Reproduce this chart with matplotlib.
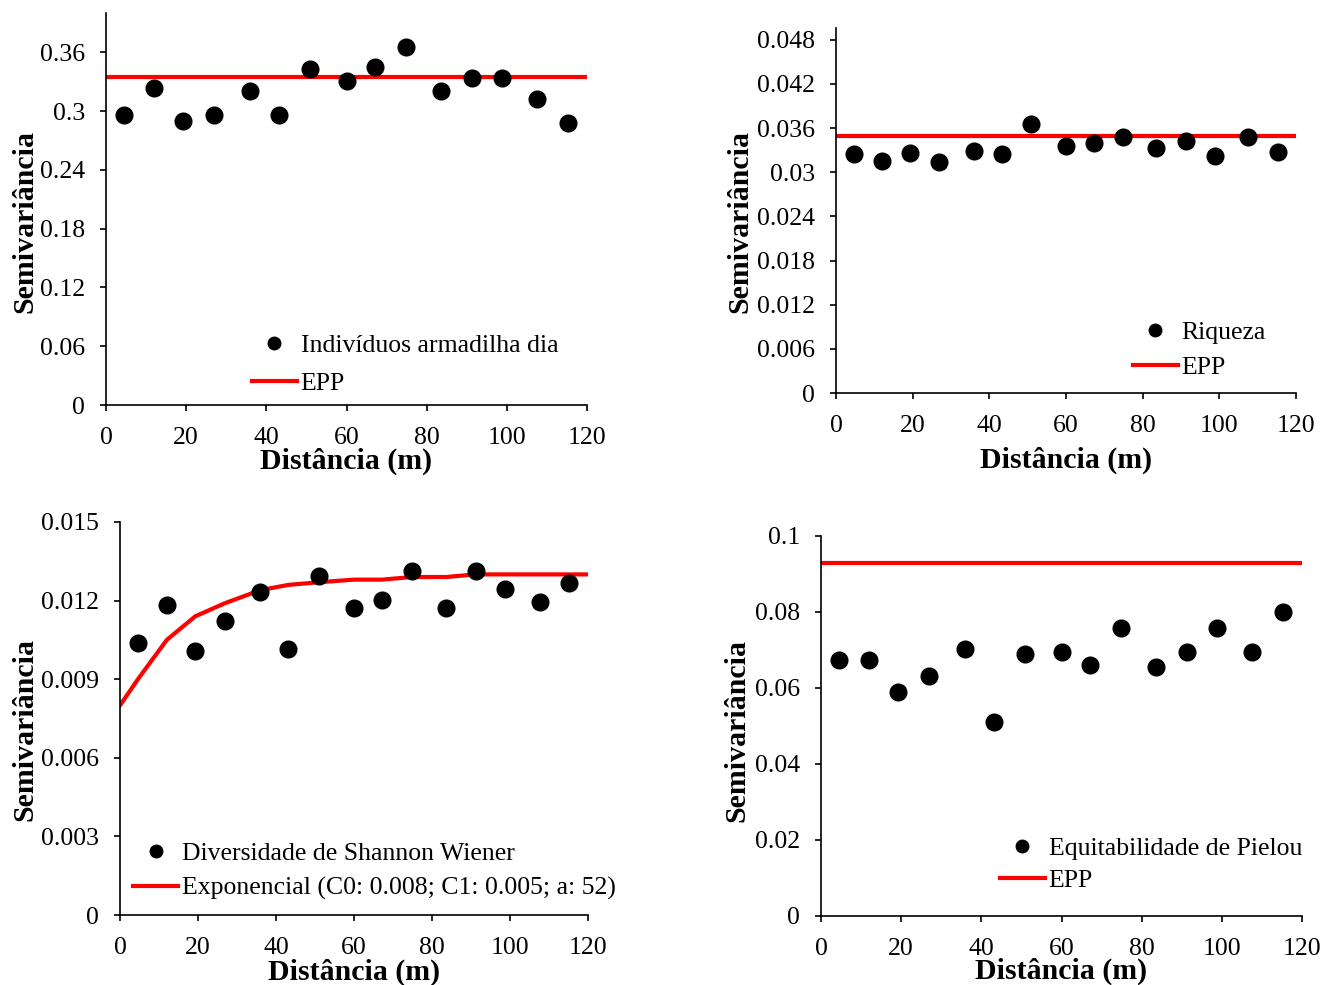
import matplotlib
import numpy as np

matplotlib.use('Agg')
import matplotlib.pyplot as plt  # noqa: E402
from matplotlib.lines import Line2D  # noqa: E402
from matplotlib.ticker import FuncFormatter, MultipleLocator  # noqa: E402

plt.rcParams['font.family'] = ['Liberation Serif', 'DejaVu Serif']

# lag distances (m), shared by all four semivariograms
LAGS = [4.6, 12.0, 19.3, 26.9, 36.0, 43.2, 50.9, 60.0, 67.2, 74.8,
        83.6, 91.2, 98.8, 107.6, 115.2]

INDIVIDUOS = [0.2958, 0.3236, 0.2897, 0.2958, 0.3206, 0.2958, 0.3430, 0.3304,
              0.3450, 0.3648, 0.3206, 0.3338, 0.3338, 0.3124, 0.2879]
INDIVIDUOS_EPP = 0.3352

RIQUEZA = [0.03247, 0.03157, 0.03265, 0.03135, 0.03288, 0.03247, 0.03654,
           0.03356, 0.03397, 0.03482, 0.03333, 0.03420, 0.03224, 0.03482,
           0.03271]
RIQUEZA_EPP = 0.03492

SHANNON = [0.01039, 0.01183, 0.01008, 0.01123, 0.01234, 0.01014, 0.01294,
           0.01173, 0.01202, 0.01313, 0.01173, 0.01313, 0.01245, 0.01196,
           0.01266]
# exponential model line, read at 0, each lag and 120 m
MODEL_X = [0.0] + LAGS + [120.0]
MODEL_Y = [0.0080, 0.0090, 0.0105, 0.0114, 0.0119, 0.0124, 0.0126, 0.0127,
           0.0128, 0.0128, 0.0129, 0.0129, 0.0130, 0.0130, 0.0130, 0.0130,
           0.0130]

PIELOU = [0.0674, 0.0674, 0.0589, 0.0631, 0.0703, 0.0511, 0.0690, 0.0695,
          0.0661, 0.0759, 0.0656, 0.0695, 0.0759, 0.0695, 0.0801]
PIELOU_EPP = 0.0928

W, H = 1325, 985
RED = '#ff0000'
FS = 18.5
LAB_FS = 21.5


def px_rect(x0, y0, x1, y1):
    return [x0 / W, 1 - y1 / H, (x1 - x0) / W, (y1 - y0) / H]


def style(ax, ymax, ystep, ylab_xy, xlab_y):
    for s in ('top', 'right'):
        ax.spines[s].set_visible(False)
    for s in ('left', 'bottom'):
        ax.spines[s].set_linewidth(1.2)
    ax.set_xlim(0, 120)
    ax.set_ylim(0, ymax)
    ax.xaxis.set_major_locator(MultipleLocator(20))
    ax.yaxis.set_major_locator(MultipleLocator(ystep))
    ax.yaxis.set_major_formatter(FuncFormatter(lambda v, p: f"{round(v, 6):g}"))
    ax.tick_params(direction='out', length=4.5, width=1.2, labelsize=FS)
    ax.tick_params(axis='y', pad=10.5)
    ax.tick_params(axis='x', pad=11)
    ax.set_xlabel("Distância (m)", fontsize=LAB_FS, fontweight='bold', va='top')
    ax.xaxis.set_label_coords(0.5, xlab_y)
    ax.set_ylabel("Semivariância", fontsize=LAB_FS, fontweight='bold',
                  va='center')
    ax.yaxis.set_label_coords(*ylab_xy)


def legend(ax, pt_label, line_label, xy, spacing=0.45):
    handles = [Line2D([], [], ls='none', marker='o', color='k', markersize=9),
               Line2D([], [], color=RED, lw=3)]
    ax.legend(handles, [pt_label, line_label], loc='upper left',
              bbox_to_anchor=xy, frameon=False, fontsize=FS,
              borderaxespad=0, borderpad=0, handlelength=1.75,
              handletextpad=0.15, labelspacing=spacing)


fig = plt.figure(figsize=(W / 100, H / 100), dpi=100)

# top left: individuals per trap per day
ax = fig.add_axes(px_rect(106, 13, 587, 405))
ax.axhline(INDIVIDUOS_EPP, color=RED, lw=3)
ax.plot(LAGS, INDIVIDUOS, 'o', color='k', ms=12, zorder=3)
style(ax, 0.4, 0.06, (-0.168, 0.469), -0.108)
legend(ax, "Indivíduos armadilha dia", "EPP", (0.303, 0.182), spacing=0.61)

# top right: richness
ax = fig.add_axes(px_rect(836, 28, 1296, 393))
ax.axhline(RIQUEZA_EPP, color=RED, lw=3)
ax.plot(LAGS, RIQUEZA, 'o', color='k', ms=12, zorder=3)
style(ax, 0.0496, 0.006, (-0.209, 0.471), -0.148)
legend(ax, "Riqueza", "EPP", (0.645, 0.196))

# bottom left: Shannon diversity with exponential model
ax = fig.add_axes(px_rect(120, 522, 588, 915))
ax.plot(MODEL_X, MODEL_Y, color=RED, lw=3)
ax.plot(LAGS, SHANNON, 'o', color='k', ms=12, zorder=3)
style(ax, 0.015, 0.003, (-0.203, 0.471), -0.11)
legend(ax, "Diversidade de Shannon Wiener",
       "Exponencial (C0: 0.008; C1: 0.005; a: 52)", (0.028, 0.185))

# bottom right: Pielou evenness
ax = fig.add_axes(px_rect(821, 536, 1302, 916))
ax.axhline(PIELOU_EPP, color=RED, lw=3)
ax.plot(LAGS, PIELOU, 'o', color='k', ms=12, zorder=3)
style(ax, 0.1, 0.02, (-0.175, 0.489), -0.11)
legend(ax, "Equitabilidade de Pielou", "EPP", (0.372, 0.209), spacing=0.38)

fig.savefig("out.png", dpi=100)
